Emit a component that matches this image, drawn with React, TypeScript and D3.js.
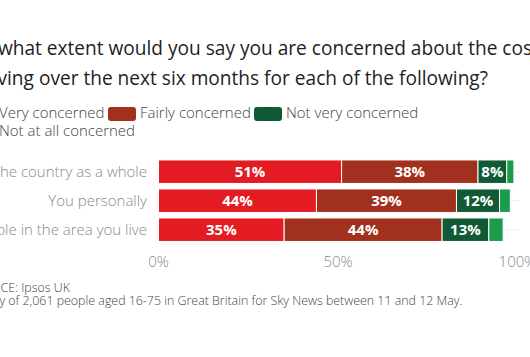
import React from "react";
import * as d3 from "d3";

const categories = ["The country as a whole", "You personally", "People in the area you live"];
const seriesNames = ["Very concerned", "Fairly concerned", "Not very concerned", "Not at all concerned"];
const veryConcerned = [51, 44, 35];
const fairlyConcerned = [38, 39, 44];
const notVeryConcerned = [8, 12, 13];
const notAtAllConcerned = [2, 3, 4];
const xTicks = [0, 50, 100];
const titleLines = [
  "To what extent would you say you are concerned about the cost",
  "of living over the next six months for each of the following?",
];
const sourceLines = [
  "SOURCE: Ipsos UK",
  "Survey of 2,061 people aged 16-75 in Great Britain for Sky News between 11 and 12 May.",
];
const colors = ["#e31b23", "#a2301f", "#125a35", "#1a9c4b"];

const W = 530;
const H = 357;
const L = -33;
const FONT = "'Open Sans', sans-serif";
const titleX = [-29, -35];

export default function App() {
  const seriesValues = [veryConcerned, fairlyConcerned, notVeryConcerned, notAtAllConcerned];
  const x = d3.scaleLinear().domain([0, 100]).range([158.5, 517.5]);
  const y = d3.scaleBand<string>().domain(categories).range([157.2, 244.2]).paddingInner(0.19).paddingOuter(0.095);

  const rows = categories.map((c, i) => {
    let acc = 0;
    return seriesValues.map((vals, s) => {
      const v = vals[i];
      const seg = { cat: c, s, v, x0: acc, x1: acc + v };
      acc += v;
      return seg;
    });
  });

  const legendItems = [
    { s: 0, x: L, y: 118 },
    { s: 1, x: 108, y: 118 },
    { s: 2, x: 254, y: 118 },
    { s: 3, x: L, y: 136 },
  ];

  return (
    <div style={{ position: "absolute", left: 0, top: 0, width: W, height: H, background: "#fff" }}>
      <svg width={W} height={H} style={{ display: "block", fontFamily: FONT }}>
        {titleLines.map((t, i) => (
          <text key={i} x={titleX[i]} y={55 + i * 30} fontSize={19.1} fill="#1e1e1e" fontWeight={500}>
            {t}
          </text>
        ))}
        {legendItems.map((it) => (
          <g key={it.s}>
            <rect x={it.x} y={it.y - 11} width={28} height={14} rx={3} fill={colors[it.s]} />
            <text x={it.x + 32} y={it.y} fontSize={15} fill="#444" fontWeight={300}>
              {seriesNames[it.s]}
            </text>
          </g>
        ))}
        {categories.map((c) => (
          <line
            key={"g" + c}
            x1={x(0)}
            x2={x(100) + 3}
            y1={(y(c) as number) + y.bandwidth() / 2}
            y2={(y(c) as number) + y.bandwidth() / 2}
            stroke="#eeeeee"
          />
        ))}
        {rows.map((segs, i) => (
          <g key={i}>
            {segs.map((sg) => (
              <rect
                key={sg.s}
                x={x(sg.x0)}
                y={y(sg.cat)}
                width={x(sg.x1) - x(sg.x0)}
                height={y.bandwidth()}
                fill={colors[sg.s]}
                stroke="#fff"
                strokeWidth={1}
              />
            ))}
            {segs
              .filter((sg) => sg.v >= 5)
              .map((sg) => (
                <text
                  key={"t" + sg.s}
                  x={(x(sg.x0) + x(sg.x1)) / 2}
                  y={(y(sg.cat) as number) + y.bandwidth() / 2 + 5.5}
                  textAnchor="middle"
                  fontSize={15}
                  fontWeight={700}
                  fill="#fff"
                >
                  {sg.v}%
                </text>
              ))}
            <text
              x={147}
              y={(y(segs[0].cat) as number) + y.bandwidth() / 2 + 5}
              textAnchor="end"
              fontSize={15}
              fontWeight={300}
              fill="#8a8a8a"
            >
              {segs[0].cat}
            </text>
          </g>
        ))}
        {xTicks.map((t) => (
          <text key={t} x={x(t)} y={267} textAnchor="middle" fontSize={15} fontWeight={300} fill="#8a8a8a">
            {t}%
          </text>
        ))}
        {sourceLines.map((t, i) => (
          <text key={i} x={L + 1} y={292 + i * 12.5} fontSize={12.4} fontWeight={300} fill="#444">
            {t}
          </text>
        ))}
      </svg>
    </div>
  );
}
